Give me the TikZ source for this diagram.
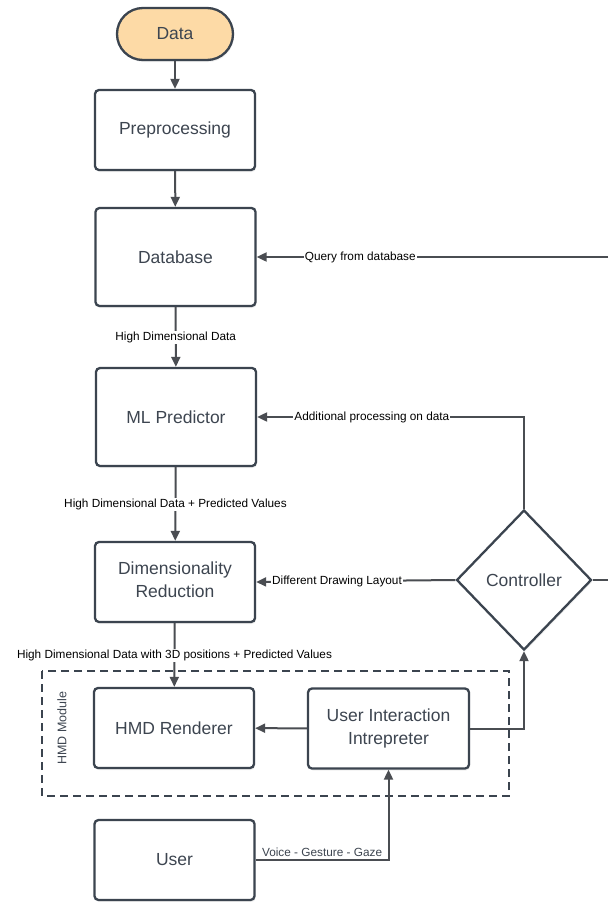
\documentclass[tikz,border=0pt]{standalone}
\usepackage{fontspec}
\setmainfont{Liberation Sans}
\usetikzlibrary{arrows.meta,shapes.geometric,shadows}
\definecolor{nodeborder}{HTML}{3B444F}
\definecolor{nodetext}{HTML}{3D4550}
\definecolor{edgec}{HTML}{4A4D52}
\definecolor{datafill}{HTML}{FDDAA6}
\tikzset{
  nshadow/.style={drop shadow={opacity=0.12,shadow xshift=1pt,shadow yshift=-2pt}},
  box/.style={rectangle,rounded corners=4pt,draw=nodeborder,line width=2.3pt,fill=white,
    minimum width=160pt,minimum height=80pt,text=nodetext,align=center,
    font=\fontsize{17.5}{23}\selectfont,nshadow},
  startbox/.style={box,rounded corners=26pt,minimum width=116pt,minimum height=52pt,fill=datafill},
  decision/.style={diamond,draw=nodeborder,line width=2.3pt,fill=white,inner sep=0pt,
    minimum width=135pt,minimum height=140pt,text=nodetext,
    font=\fontsize{17.5}{23}\selectfont,nshadow},
  conn/.style={draw=edgec,line width=2pt,-{Triangle[length=10pt,width=9pt]}},
  plainconn/.style={draw=edgec,line width=2pt},
  elabel/.style={fill=white,inner sep=1pt,text=black,font=\fontsize{11.8}{14}\selectfont},
  glabel/.style={inner sep=2pt,text=nodetext,font=\fontsize{11.8}{14}\selectfont},
  module/.style={draw=nodeborder,line width=2.6pt,dash pattern=on 8pt off 5pt},
}
\begin{document}
\begin{tikzpicture}[x=1pt,y=-1pt]
\useasboundingbox[fill=white] (0,0) rectangle (608,902);
% HMD module frame
\draw[module] (42,671) rectangle (509,796);
\node[rotate=90,text=nodetext,font=\fontsize{12.5}{14}\selectfont] (hmdlabel) at (62,728) {HMD Module};
% nodes
\node[startbox] (data) at (175,34) {Data};
\node[box] (pre) at (175,130) {Preprocessing};
\node[box,minimum height=98pt] (db) at (175.5,257) {Database};
\node[box,minimum height=98pt] (ml) at (176,417) {ML Predictor};
\node[box] (dr) at (175,582) {\raisebox{0pt}[0pt][0pt]{}Dimensionality\\Reduction\vspace{4pt}};
\node[box] (hmd) at (174,728) {HMD Renderer};
\node[box,minimum width=161pt] (uii) at (388.5,728.5) {User Interaction\\Intrepreter};
\node[box] (user) at (174.5,860) {User};
\node[decision] (ctrl) at (524,580) {Controller};
\coordinate (cR) at (608,580);
\coordinate (qR) at (608,257);
% connectors
\draw[conn] (data) -- (pre);
\draw[conn] (pre) -- (db);
\draw[conn] (db) -- node[elabel]{High Dimensional Data} (ml);
\draw[conn] (ml) -- node[elabel]{High Dimensional Data + Predicted Values} (dr);
\draw[conn] (dr) -- node[elabel]{High Dimensional Data with 3D positions + Predicted Values} (hmd);
\draw[conn] (uii) -- (hmd);
\draw[conn] (user.east) -| node[pos=0.25,above,glabel]{Voice - Gesture - Gaze} (uii.south);
\draw[conn] (uii.east) -| (ctrl.south);
\draw[conn] (ctrl.north) |- node[pos=0.785,elabel]{Additional processing on data} (ml.east);
\draw[conn] (ctrl.west) -- node[pos=0.594,elabel]{Different Drawing Layout} (dr.east);
\draw[plainconn] (ctrl.east) -- (cR);
\draw[conn] (qR) -- node[pos=0.705,elabel]{Query from database} (db.east);
\end{tikzpicture}
\end{document}
